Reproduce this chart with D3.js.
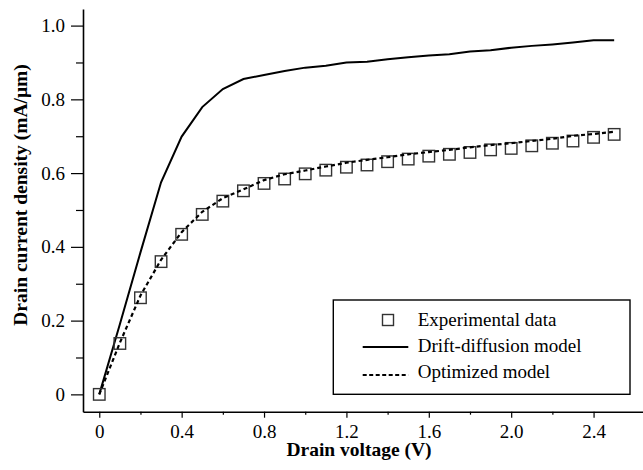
<!DOCTYPE html>
<html lang="en">
<head>
  <meta charset="UTF-8">
  <title>Drain current</title>
  <style>
    *{ margin:0; padding:0; }
    body{ background:#fff; }
    text{ font-family:"Liberation Serif","Times New Roman",serif; fill:#000; }
  </style>
  <script src="https://cdn.jsdelivr.net/npm/d3@7"></script>
</head>
<body>
  <svg id="mainsvg"></svg>
  <script>
    // data
    const voltage = [0, 0.1, 0.2, 0.3, 0.4, 0.5, 0.6, 0.7, 0.8, 0.9, 1.0, 1.1, 1.2,
                     1.3, 1.4, 1.5, 1.6, 1.7, 1.8, 1.9, 2.0, 2.1, 2.2, 2.3, 2.4, 2.5]
    const experimental = [0, 0.138, 0.262, 0.36, 0.434, 0.488, 0.524, 0.552, 0.572, 0.584, 0.598, 0.608, 0.616,
                          0.622, 0.631, 0.638, 0.646, 0.651, 0.656, 0.663, 0.667, 0.674, 0.681, 0.687, 0.697, 0.705]
    const driftDiffusion = [0, 0.19, 0.385, 0.575, 0.699, 0.779, 0.828, 0.855, 0.866, 0.877, 0.886, 0.891, 0.90,
                            0.902, 0.909, 0.914, 0.919, 0.922, 0.93, 0.933, 0.94, 0.945, 0.949, 0.954, 0.96, 0.96]
    const optimized = [0, 0.14, 0.268, 0.365, 0.44, 0.495, 0.532, 0.556, 0.581, 0.597, 0.607, 0.618, 0.628,
                       0.636, 0.643, 0.651, 0.657, 0.663, 0.670, 0.676, 0.681, 0.687, 0.693, 0.701, 0.706, 0.712]
    const xTicks = [0, 0.4, 0.8, 1.2, 1.6, 2.0, 2.4]
    const xMinor = [0.2, 0.6, 1.0, 1.4, 1.8, 2.2]
    const yTicks = [0, 0.2, 0.4, 0.6, 0.8, 1.0]
    const yMinor = [0.1, 0.3, 0.5, 0.7, 0.9]
    const legendNames = ['Experimental data', 'Drift-diffusion model', 'Optimized model']

    const width = 643, height = 470
    const svg = d3.select('#mainsvg').attr('width', width).attr('height', height)

    const margin = { left: 83, right: 643, top: 9, bottom: 411.7 }
    const x = d3.scaleLinear().domain([-0.079, 2.64]).range([margin.left, margin.right])
    const y = d3.scaleLinear().domain([-0.047, 1.045]).range([margin.bottom, margin.top])

    const fmtX = d => d === 0 ? '0' : d3.format('.1f')(d)

    // x axis
    const gx = svg.append('g').attr('transform', `translate(0,${margin.bottom})`)
    gx.call(d3.axisBottom(x).tickValues(xTicks).tickSize(6).tickPadding(7).tickFormat(fmtX).tickSizeOuter(0))
    gx.append('g').call(d3.axisBottom(x).tickValues(xMinor).tickSize(3).tickFormat('').tickSizeOuter(0))
      .select('.domain').remove()

    // y axis
    const gy = svg.append('g').attr('transform', `translate(${margin.left},0)`)
    gy.call(d3.axisLeft(y).tickValues(yTicks).tickSize(12).tickPadding(6).tickFormat(fmtX).tickSizeOuter(0))
    gy.append('g').call(d3.axisLeft(y).tickValues(yMinor).tickSize(7).tickFormat('').tickSizeOuter(0))
      .select('.domain').remove()

    svg.selectAll('.domain').attr('stroke', '#000').attr('stroke-width', 1.6)
    svg.selectAll('.tick line').attr('stroke', '#000').attr('stroke-width', 1.2)
    svg.selectAll('.tick text').attr('font-size', 19).attr('fill', '#000')

    // axis titles
    svg.append('text').attr('x', 359).attr('y', 456).attr('text-anchor', 'middle')
      .attr('font-size', 19.5).attr('font-weight', 'bold').text('Drain voltage (V)')
    svg.append('text').attr('transform', 'translate(27,195) rotate(-90)').attr('text-anchor', 'middle')
      .attr('font-size', 19.5).attr('font-weight', 'bold').text('Drain current density (mA/μm)')

    const pts = vals => voltage.map((v, i) => [v, vals[i]])
    const line = d3.line().x(d => x(d[0])).y(d => y(d[1]))

    svg.append('path').attr('d', line(pts(driftDiffusion)))
      .attr('fill', 'none').attr('stroke', '#000').attr('stroke-width', 2)

    const sq = 11.5
    svg.append('g').selectAll('rect').data(pts(experimental)).join('rect')
      .attr('x', d => x(d[0]) - sq / 2).attr('y', d => y(d[1]) - sq / 2)
      .attr('width', sq).attr('height', sq)
      .attr('fill', 'none').attr('stroke', '#333').attr('stroke-width', 1.4)

    svg.append('path').attr('d', line(pts(optimized)))
      .attr('fill', 'none').attr('stroke', '#000').attr('stroke-width', 2.2).attr('stroke-dasharray', '4,3')

    // legend
    const lg = svg.append('g')
    lg.append('rect').attr('x', 333.3).attr('y', 300).attr('width', 296.7).attr('height', 94.3)
      .attr('fill', '#fff').attr('stroke', '#000').attr('stroke-width', 1.4)
    const rowY = [320, 346, 372]
    lg.append('rect').attr('x', 388 - 5.5).attr('y', rowY[0] - 5.5).attr('width', 11).attr('height', 11)
      .attr('fill', 'none').attr('stroke', '#333').attr('stroke-width', 1.4)
    lg.append('line').attr('x1', 362.7).attr('x2', 408.3).attr('y1', rowY[1] + 1).attr('y2', rowY[1] + 1)
      .attr('stroke', '#000').attr('stroke-width', 2)
    lg.append('line').attr('x1', 362.7).attr('x2', 408.3).attr('y1', rowY[2] + 3).attr('y2', rowY[2] + 3)
      .attr('stroke', '#000').attr('stroke-width', 2).attr('stroke-dasharray', '4,2.5')
    lg.selectAll('text.lab').data(legendNames).join('text').attr('class', 'lab')
      .attr('x', 417.7).attr('y', (d, i) => rowY[i] + 6)
      .attr('font-size', 19).text(d => d)
  </script>
</body>
</html>
